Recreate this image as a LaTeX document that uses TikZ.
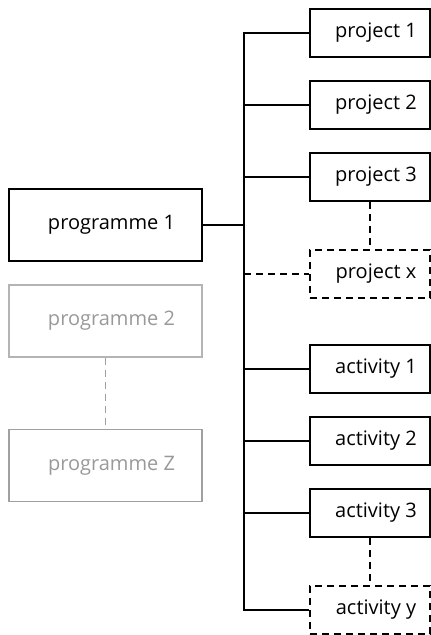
\documentclass[tikz,border=0pt]{standalone}
\usepackage{fontspec}
\setmainfont{Open Sans}
\definecolor{lightgr}{HTML}{B4B4B4}
\definecolor{midgr}{HTML}{A0A0A0}
\definecolor{txtgr}{HTML}{999999}
\begin{document}
\begin{tikzpicture}[x=1pt,y=-1pt,
  box/.style={draw, line width=1.6pt, inner sep=0pt, font=\fontsize{20}{24}\selectfont,
    execute at begin node={\hspace*{12pt}}},
  progbox/.style={box, minimum width=193pt, minimum height=72pt},
  itembox/.style={box, minimum width=120pt, minimum height=48pt},
  dashbox/.style={itembox, dash pattern=on 7pt off 5pt},
  conn/.style={line width=1.6pt},
  dconn/.style={line width=1.6pt, dash pattern=on 7pt off 5pt}]
\useasboundingbox (0,0) rectangle (431,635);
% programmes
\node[progbox] (pg1) at (105.5,225) {programme 1};
\node[progbox, draw=lightgr, text=txtgr] (pg2) at (105.5,321) {programme 2};
\node[progbox, draw=midgr, text=txtgr] (pgz) at (105.5,465.5) {programme Z};
\draw[dconn, midgr] (pg2) -- (pgz);
% items
\node[itembox] (p1) at (370,33) {project 1};
\node[itembox] (p2) at (370,105) {project 2};
\node[itembox] (p3) at (370,177) {project 3};
\node[dashbox] (px) at (370,274) {project x};
\node[itembox] (a1) at (370,369) {activity 1};
\node[itembox] (a2) at (370,441) {activity 2};
\node[itembox] (a3) at (370,513) {activity 3};
\node[dashbox] (ay) at (370,610) {activity y};
% trunk
\coordinate (ttop) at (244,33);
\coordinate (tbot) at (244,610);
\draw[conn, line cap=rect] (pg1.east) -- (244,225);
\draw[conn] (p1.west) -- (ttop) -- (tbot) -- (ay.west);
\foreach \n in {p2,p3,a1,a2,a3}{
  \draw[conn] (\n.west) -- (ttop |- \n.west);
}
\draw[dconn] (ttop |- px.west) -- (px.west);
\draw[dconn] (p3.south) -- (px.north);
\draw[dconn] (a3.south) -- (ay.north);
\end{tikzpicture}
\end{document}
